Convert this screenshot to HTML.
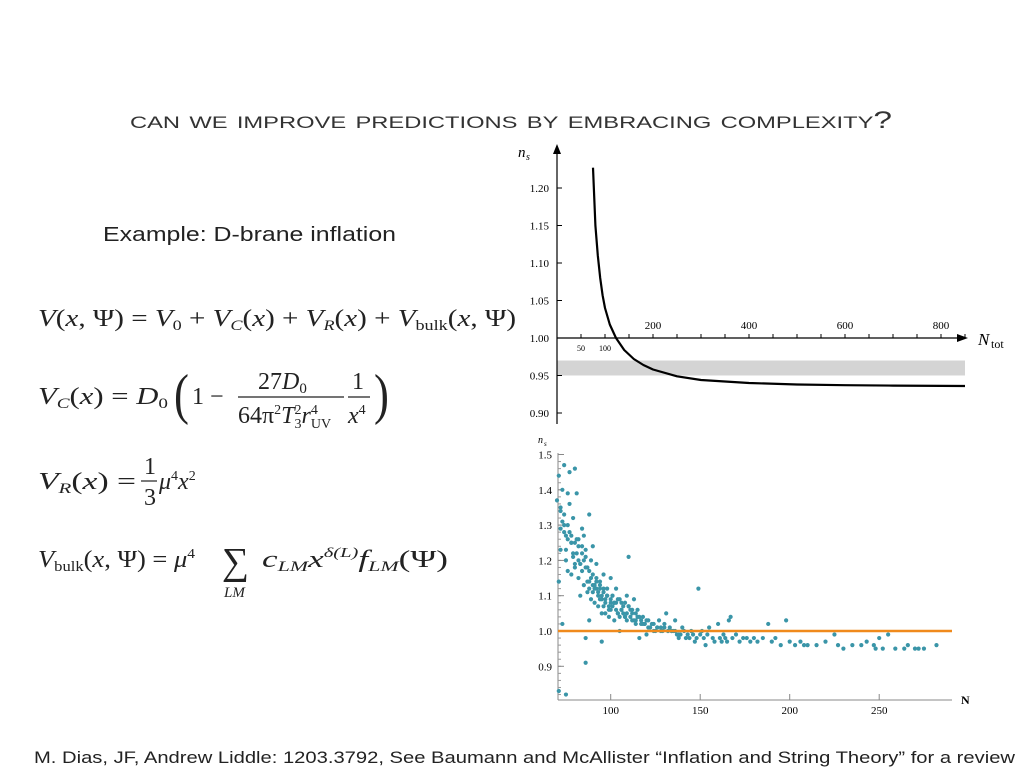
<!DOCTYPE html>
<html><head><meta charset="utf-8"><style>
body{margin:0;background:#fff;width:1024px;height:768px;overflow:hidden}
svg{display:block}
.serif{font-family:"Liberation Serif",serif}
.sans{font-family:"Liberation Sans",sans-serif}
</style></head><body>
<svg width="1024" height="768">
<g id="text" fill="#222">
<text class="sans" x="130" y="128" font-size="24" fill="#333" style="font-variant:small-caps" textLength="762" lengthAdjust="spacingAndGlyphs">can we improve predictions by embracing complexity?</text>
<text class="sans" x="103" y="241" font-size="20" textLength="293" lengthAdjust="spacingAndGlyphs">Example: D-brane inflation</text>
<g class="serif" font-size="24">
<text x="38" y="326" textLength="478" lengthAdjust="spacingAndGlyphs"><tspan font-style="italic">V</tspan>(<tspan font-style="italic">x</tspan>, Ψ) = <tspan font-style="italic">V</tspan><tspan font-size="15" dy="4">0</tspan><tspan dy="-4"> + </tspan><tspan font-style="italic">V</tspan><tspan font-size="15" dy="4" font-style="italic">C</tspan><tspan dy="-4">(</tspan><tspan font-style="italic">x</tspan>) + <tspan font-style="italic">V</tspan><tspan font-size="15" dy="4" font-style="italic">R</tspan><tspan dy="-4">(</tspan><tspan font-style="italic">x</tspan>) + <tspan font-style="italic">V</tspan><tspan font-size="15" dy="4">bulk</tspan><tspan dy="-4">(</tspan><tspan font-style="italic">x</tspan>, Ψ)</text>
<text x="38" y="404" textLength="130" lengthAdjust="spacingAndGlyphs"><tspan font-style="italic">V</tspan><tspan font-size="15" dy="4" font-style="italic">C</tspan><tspan dy="-4">(</tspan><tspan font-style="italic">x</tspan>) = <tspan font-style="italic">D</tspan><tspan font-size="15" dy="4">0</tspan></text>
<text x="0" y="413" font-size="56" transform="translate(174,0) scale(0.8,1)">(</text>
<text x="192" y="404">1 −</text>
<text x="258" y="389">27<tspan font-style="italic">D</tspan><tspan font-size="15" dy="4">0</tspan></text>
<line x1="238" y1="397" x2="344" y2="397" stroke="#222" stroke-width="1.2"/>
<text x="238" y="423">64π<tspan font-size="14" dy="-9">2</tspan><tspan font-style="italic" dy="9">T</tspan><tspan font-size="14" dy="-9">2</tspan><tspan font-size="14" dx="-7" dy="14">3</tspan><tspan font-style="italic" dy="-5">r</tspan><tspan font-size="14" dy="-9">4</tspan><tspan font-size="14" dx="-7" dy="14">UV</tspan></text>
<text x="352" y="389">1</text>
<line x1="348" y1="397" x2="370" y2="397" stroke="#222" stroke-width="1.2"/>
<text x="348" y="423" font-style="italic">x<tspan font-size="14" dy="-9" font-style="normal">4</tspan></text>
<text x="0" y="413" font-size="56" transform="translate(374,0) scale(0.8,1)">)</text>
<text x="38" y="489" textLength="98" lengthAdjust="spacingAndGlyphs"><tspan font-style="italic">V</tspan><tspan font-size="15" dy="4" font-style="italic">R</tspan><tspan dy="-4">(</tspan><tspan font-style="italic">x</tspan>) =</text>
<text x="144" y="474">1</text>
<line x1="141" y1="481" x2="157" y2="481" stroke="#222" stroke-width="1.2"/>
<text x="144" y="505">3</text>
<text x="159" y="489" font-style="italic">μ<tspan font-size="14" dy="-9" font-style="normal">4</tspan><tspan dy="9">x</tspan><tspan font-size="14" dy="-9" font-style="normal">2</tspan></text>
<text x="38" y="567" textLength="157" lengthAdjust="spacingAndGlyphs"><tspan font-style="italic">V</tspan><tspan font-size="15" dy="4">bulk</tspan><tspan dy="-4">(</tspan><tspan font-style="italic">x</tspan>, Ψ) = <tspan font-style="italic">μ</tspan><tspan font-size="14" dy="-9">4</tspan></text>
<text x="222" y="574" font-size="38">∑</text>
<text x="224" y="597" font-size="15" font-style="italic">LM</text>
<text x="262" y="567" font-style="italic" textLength="186" lengthAdjust="spacingAndGlyphs">c<tspan font-size="15" dy="4">LM</tspan><tspan dy="-4">x</tspan><tspan font-size="14" dy="-10">δ(L)</tspan><tspan dy="10">f</tspan><tspan font-size="15" dy="4">LM</tspan><tspan dy="-4" font-style="normal">(Ψ)</tspan></text>
</g>
<text class="sans" x="34" y="763" font-size="17" textLength="981" lengthAdjust="spacingAndGlyphs">M. Dias, JF, Andrew Liddle: 1203.3792, See Baumann and McAllister “Inflation and String Theory” for a review</text>
</g>
<g id="top-chart"></g>
<g id="bottom-chart"></g>
</svg>
<script>
// top chart data
const topN = [75, 80, 85, 90, 95, 100, 110, 123, 140, 160, 180, 200, 250, 300, 400, 500, 600, 700, 850];
const topNs = [1.227, 1.15, 1.11, 1.08, 1.057, 1.04, 1.018, 1.0, 0.984, 0.972, 0.964, 0.958, 0.949, 0.944, 0.940, 0.938, 0.937, 0.9365, 0.936];
const topYTicks = [0.90, 0.95, 1.00, 1.05, 1.10, 1.15, 1.20];
const topXTicksMajor = [200, 400, 600, 800];
const topXTicksMinor = [50, 100];
const bandRange = [0.95, 0.97];
// bottom chart data
const botN = [70,71,71,72,72,73,73,74,74,75,75,76,76,77,77,78,78,79,79,80,80,81,81,82,82,83,83,84,84,85,85,86,86,87,87,88,88,89,89,90,90,91,91,92,92,93,93,94,94,95,95,96,96,97,97,98,98,99,99,100,100,101,101,102,102,103,103,104,104,105,105,106,106,107,108,108,109,109,110,110,111,112,112,113,114,114,115,116,117,118,119,120,121,122,123,124,125,126,127,128,129,130,131,132,133,134,135,136,137,138,139,140,141,142,143,144,145,146,147,148,149,150,151,152,153,154,155,157,158,160,161,162,163,164,165,166,167,168,170,172,174,176,178,180,182,185,188,190,192,195,198,200,203,206,208,210,215,220,225,227,230,235,240,243,247,248,250,252,255,259,264,266,270,272,275,282,
72,74,76,78,80,82,84,86,88,90,92,94,96,98,100,73,75,77,79,81,83,85,87,89,91,93,95,97,99,101,103,105,107,109,111,113,115,117,119,121,71,75,86,88,95,72,74,76,78,80,82,84,86,88,90,92,94,96,98,100,102,104,106,108,110,112,114,116,118,120,122,124,126,128,130,132,134,136,138];
const botNs = [1.37,1.44,1.14,1.29,1.35,1.40,1.02,1.47,1.33,1.27,1.20,1.30,1.39,1.28,1.45,1.25,1.16,1.32,1.21,1.46,1.18,1.22,1.39,1.26,1.15,1.19,1.10,1.29,1.24,1.13,1.20,1.23,0.98,1.18,1.11,1.33,1.14,1.09,1.20,1.13,1.24,1.12,1.08,1.15,1.19,1.10,1.07,1.14,1.12,1.09,0.97,1.16,1.11,1.08,1.05,1.10,1.12,1.07,1.04,1.09,1.15,1.07,1.10,1.03,1.08,1.06,1.12,1.09,1.05,1.04,1.00,1.08,1.06,1.05,1.04,1.08,1.03,1.10,1.21,1.07,1.04,1.06,1.03,1.09,1.02,1.05,1.06,0.98,1.03,1.04,1.02,0.99,1.03,1.01,1.02,1.02,1.00,1.01,1.03,1.01,1.00,1.02,1.05,1.00,1.01,1.00,1.00,1.03,0.99,0.98,0.99,1.01,1.00,0.98,0.99,0.98,1.00,0.99,0.97,0.98,1.12,0.99,1.00,0.98,0.96,0.99,1.01,0.98,0.97,1.02,0.98,0.97,0.99,0.98,0.97,1.03,1.04,0.98,0.99,0.97,0.98,0.98,0.97,0.98,0.97,0.98,1.02,0.97,0.98,0.96,1.03,0.97,0.96,0.97,0.96,0.96,0.96,0.97,0.99,0.96,0.95,0.96,0.96,0.97,0.96,0.95,0.98,0.95,0.99,0.95,0.95,0.96,0.95,0.95,0.95,0.96,
1.34,1.28,1.26,1.27,1.25,1.24,1.22,1.21,1.17,1.16,1.14,1.13,1.12,1.10,1.08,1.31,1.23,1.36,1.22,1.26,1.19,1.27,1.14,1.15,1.13,1.11,1.10,1.09,1.06,1.10,1.08,1.09,1.07,1.05,1.06,1.03,1.04,1.02,1.02,1.01,0.83,0.82,0.91,1.03,1.05,1.23,1.30,1.17,1.25,1.19,1.20,1.17,1.18,1.12,1.11,1.12,1.09,1.07,1.10,1.06,1.08,1.05,1.06,1.04,1.07,1.05,1.03,1.04,1.02,1.03,1.01,1.00,1.01,1.00,1.01,1.00,1.00,1.00,0.99];
const botYTicks = [0.9, 1.0, 1.1, 1.2, 1.3, 1.4, 1.5];
const botXTicks = [100, 150, 200, 250];
const refLine = 1.0;

const NS='http://www.w3.org/2000/svg';
function mk(tag, attrs, parent, txt){const e=document.createElementNS(NS,tag);for(const k in attrs)e.setAttribute(k,attrs[k]);if(txt!==undefined)e.textContent=txt;parent.appendChild(e);return e;}

// top chart axes
const tx = n => 557 + n*0.48;
const ty = v => 338 - (v-1.0)*750;
const T = document.getElementById('top-chart');
let band = mk('rect',{x:557,y:ty(bandRange[1]),width:408,height:ty(bandRange[0])-ty(bandRange[1]),fill:'#d4d4d4'},T);


let ya = mk('line',{x1:557,y1:424,x2:557,y2:150,stroke:'#000','stroke-width':1.2},T);


mk('path',{d:'M557,144 L553,154 L561,154 Z',fill:'#000'},T);
let xa = mk('line',{x1:557,y1:338,x2:962,y2:338,stroke:'#000','stroke-width':1.2},T);


mk('path',{d:'M968,338 L957,334 L957,342 Z',fill:'#000'},T);
mk('text',{x:518,y:157,'font-size':15,'font-style':'italic',class:'serif'},T,'n');
mk('text',{x:526,y:160,'font-size':10,'font-style':'italic',class:'serif'},T,'s');
mk('text',{x:978,y:345,'font-size':17,'font-style':'italic',class:'serif'},T,'N');
mk('text',{x:991,y:348,'font-size':12,class:'serif'},T,'tot');
topYTicks.forEach(v=>{
  mk('line',{x1:557,y1:ty(v),x2:562,y2:ty(v),stroke:'#000'},T);
  let t=mk('text',{x:549,y:ty(v)+4,'font-size':11,'text-anchor':'end',class:'serif'},T,v.toFixed(2));
  
  
});
for(let n=50;n<=850;n+=50){mk('line',{x1:tx(n),y1:334,x2:tx(n),y2:338,stroke:'#000'},T);}
topXTicksMajor.forEach(n=>{
  let t=mk('text',{x:tx(n),y:329,'font-size':11,'text-anchor':'middle',class:'serif'},T,n);
  
  
});
topXTicksMinor.forEach(n=>{
  let t=mk('text',{x:tx(n),y:351,'font-size':8,'text-anchor':'middle',class:'serif'},T,n);
  
  
});
let d=topN.map((n,i)=>(i?'L':'M')+tx(n).toFixed(1)+','+ty(topNs[i]).toFixed(1)).join(' ');
let curve=mk('path',{d:d,fill:'none',stroke:'#000','stroke-width':2.2,'stroke-linejoin':'round'},T);



// bottom chart
const bx = n => 557 + (n-70)*1.79;
const by = v => 631 - (v-1.0)*353;
const B = document.getElementById('bottom-chart');
let bya=mk('line',{x1:558,y1:453,x2:558,y2:700,stroke:'#888'},B);


let bxa=mk('line',{x1:558,y1:700,x2:952,y2:700,stroke:'#888'},B);


for(let v=0.82;v<=1.5;v+=0.02){mk('line',{x1:558,y1:by(v),x2:561,y2:by(v),stroke:'#999'},B);}
botYTicks.forEach(v=>{
  mk('line',{x1:558,y1:by(v),x2:564,y2:by(v),stroke:'#888'},B);
  let t=mk('text',{x:552,y:by(v)+4,'font-size':11,'text-anchor':'end',class:'serif'},B,v.toFixed(1));
  
  
});
botXTicks.forEach(n=>{
  mk('line',{x1:bx(n),y1:700,x2:bx(n),y2:694,stroke:'#888'},B);
  let t=mk('text',{x:bx(n),y:714,'font-size':11,'text-anchor':'middle',class:'serif'},B,n);
  
  
});
mk('text',{x:538,y:443,'font-size':10,'font-style':'italic',class:'serif'},B,'n');
mk('text',{x:544,y:446,'font-size':7,'font-style':'italic',class:'serif'},B,'s');
mk('text',{x:961,y:704,'font-size':12,'font-weight':'bold',class:'serif'},B,'N');
botN.forEach((n,i)=>{
  let c=mk('circle',{cx:bx(n),cy:by(botNs[i]),r:2.1,fill:'#3a95a8'},B);
  
  
});
let rl=mk('line',{x1:558,y1:by(refLine),x2:952,y2:by(refLine),stroke:'#f08a1c','stroke-width':2.5},B);


</script>
</body></html>
